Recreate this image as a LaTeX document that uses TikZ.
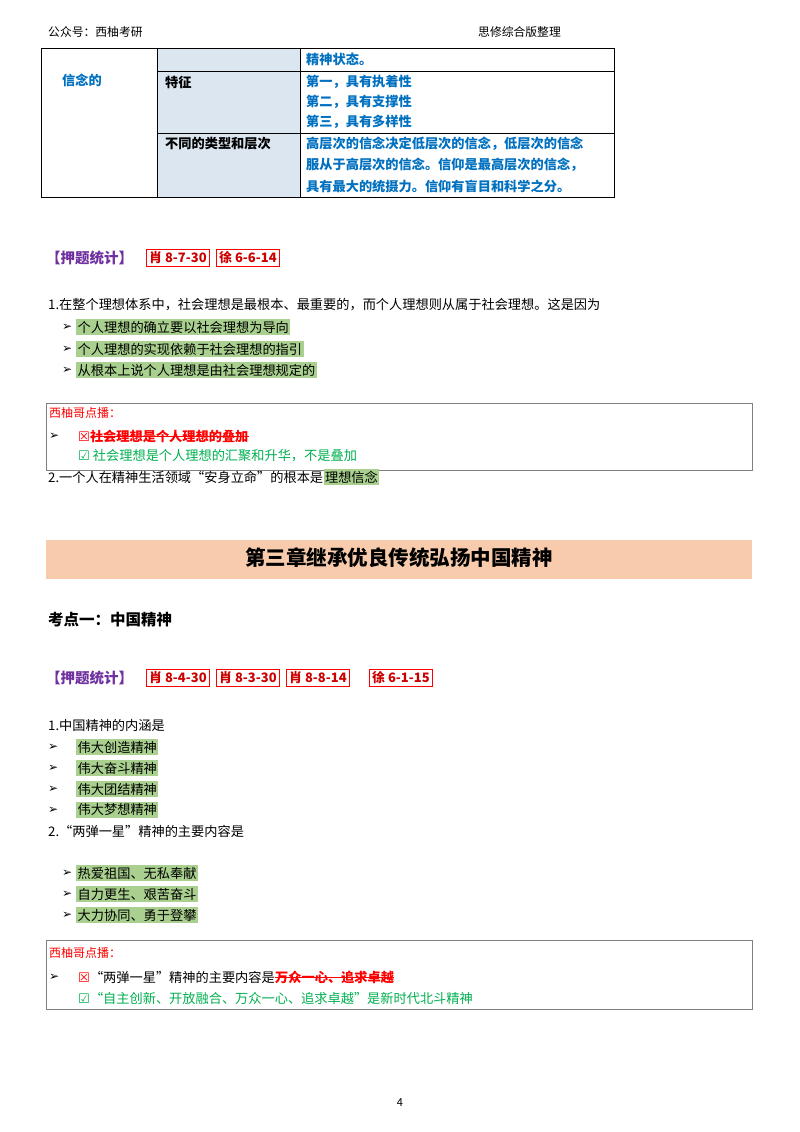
\documentclass[tikz,border=0pt]{standalone}
\usepackage{fontspec}
\setmainfont{Noto Sans CJK SC}
\newfontfamily\sym{DejaVu Sans}
\definecolor{blu}{HTML}{0070C0}
\definecolor{pur}{HTML}{7030A0}
\definecolor{hl}{HTML}{A9D08E}
\definecolor{gr}{HTML}{00B050}
\definecolor{shadebg}{HTML}{DCE6F1}
\definecolor{band}{HTML}{F8CBAD}
\begin{document}
\begin{tikzpicture}[x=1pt,y=-1pt,
  t/.style={anchor=west,inner sep=0pt,font=\fontsize{13.2}{15}\selectfont},
  tb/.style={t,text=blu,font=\fontsize{13.2}{15}\selectfont\bfseries},
  hlt/.style={t,fill=hl,inner sep=1.5pt},
  tag/.style={draw=red,line width=1.2pt,text=red!80!black,inner sep=2.5pt,anchor=west,font=\fontsize{13}{15}\selectfont\bfseries},
  arr/.style={t,font=\sym\fontsize{12}{14}\selectfont},
  pbox/.style={draw=gray,line width=0.6pt}]
\useasboundingbox (0,0) rectangle (800,1132);
\fill[white] (0,0) rectangle (800,1132);
% header
\node[t,font=\fontsize{11.8}{13}\selectfont] (h1) at (48,32) {公众号：西柚考研};
\node[t,font=\fontsize{11.8}{13}\selectfont] (h2) at (478,32) {思修综合版整理};
% table
\fill[shadebg] (157,48) rectangle (300,197);
\draw[line width=0.8pt] (41,48) rectangle (614,197);
\draw[line width=0.8pt] (157,48) -- (157,197) (300,48) -- (300,197);
\draw[line width=0.8pt] (157,71) -- (614,71) (157,133) -- (614,133);
\node[tb] (c1) at (62,80) {信念的};
\node[t,font=\fontsize{13.2}{15}\selectfont\bfseries] (c2) at (165,82) {特征};
\node[t,font=\fontsize{13.2}{15}\selectfont\bfseries] (c3) at (165,144) {不同的类型和层次};
\node[tb] (r0) at (306,59) {精神状态。};
\node[tb] (r1) at (306,82) {第一，具有执着性};
\node[tb] (r2) at (306,102) {第二，具有支撑性};
\node[tb] (r3) at (306,122) {第三，具有多样性};
\node[tb] (r4) at (306,144) {高层次的信念决定低层次的信念，低层次的信念};
\node[tb] (r5) at (306,165) {服从于高层次的信念。信仰是最高层次的信念，};
\node[tb] (r6) at (306,186) {具有最大的统摄力。信仰有盲目和科学之分。};
% stats 1
\node[t,text=pur,font=\fontsize{14.5}{16}\selectfont\bfseries] (s1) at (46,258) {【押题统计】};
\node[tag] (s1a) at (146,258) {肖 8-7-30};
\node[tag] (s1b) at (216,258) {徐 6-6-14};
% Q1
\node[t] (q1) at (48,305) {1.在整个理想体系中，社会理想是最根本、最重要的，而个人理想则从属于社会理想。这是因为};
\node[arr] (a1) at (62,327) {➢}; \node[hlt] (b1) at (76,327) {个人理想的确立要以社会理想为导向};
\node[arr] (a2) at (62,349) {➢}; \node[hlt] (b2) at (76,349) {个人理想的实现依赖于社会理想的指引};
\node[arr] (a3) at (62,370) {➢}; \node[hlt] (b3) at (76,370) {从根本上说个人理想是由社会理想规定的};
% box 1
\draw[pbox] (46,403) rectangle (752,470);
\node[t,text=red,font=\fontsize{12}{13}\selectfont] (p1) at (49,413) {西柚哥点播：};
\node[arr] (p1a) at (49,436) {➢};
\node[t,text=red,font=\fontsize{13.2}{15}\selectfont\bfseries] (p1b) at (78,436) {{\sym☒}社会理想是个人理想的叠加};
\draw[red,line width=0.8pt] ([xshift=14pt]p1b.west) -- (p1b.east);
\node[t,text=gr] (p1c) at (78,456) {{\sym☑} 社会理想是个人理想的汇聚和升华，不是叠加};
\node[t] (q2) at (48,477) {2.一个人在精神生活领域“安身立命”的根本是};
\node[hlt,anchor=west] (q2b) at (q2.east) {理想信念};
% chapter band
\fill[band] (46,540) rectangle (752,579);
\node[font=\fontsize{20.5}{24}\selectfont\bfseries] (ch) at (399,558) {第三章继承优良传统弘扬中国精神};
\node[t,font=\fontsize{15.5}{18}\selectfont\bfseries] (k1) at (48,620) {考点一：中国精神};
% stats 2
\node[t,text=pur,font=\fontsize{14.5}{16}\selectfont\bfseries] (s2) at (46,678) {【押题统计】};
\node[tag] (s2a) at (146,678) {肖 8-4-30};
\node[tag] (s2b) at (216,678) {肖 8-3-30};
\node[tag] (s2c) at (286,678) {肖 8-8-14};
\node[tag] (s2d) at (369,678) {徐 6-1-15};
% Q list
\node[t] (m1) at (48,725) {1.中国精神的内涵是};
\node[arr] (m1a) at (48,747) {➢}; \node[hlt] (m1b) at (76,747) {伟大创造精神};
\node[arr] (m2a) at (48,768) {➢}; \node[hlt] (m2b) at (76,768) {伟大奋斗精神};
\node[arr] (m3a) at (48,789) {➢}; \node[hlt] (m3b) at (76,789) {伟大团结精神};
\node[arr] (m4a) at (48,810) {➢}; \node[hlt] (m4b) at (76,810) {伟大梦想精神};
\node[t] (m2) at (48,831) {2.“两弹一星”精神的主要内容是};
\node[arr] (n1a) at (62,873) {➢}; \node[hlt] (n1b) at (76,873) {热爱祖国、无私奉献};
\node[arr] (n2a) at (62,894) {➢}; \node[hlt] (n2b) at (76,894) {自力更生、艰苦奋斗};
\node[arr] (n3a) at (62,915) {➢}; \node[hlt] (n3b) at (76,915) {大力协同、勇于登攀};
% box 2
\draw[pbox] (46,940) rectangle (752,1009);
\node[t,text=red,font=\fontsize{12}{13}\selectfont] (p2) at (49,953) {西柚哥点播：};
\node[arr] (p2a) at (49,977) {➢};
\node[t] (p2b) at (78,977) {{\sym\color{red}☒}“两弹一星”精神的主要内容是};
\node[t,text=red,font=\fontsize{13.2}{15}\selectfont\bfseries,anchor=west] (p2c) at (p2b.east) {万众一心、追求卓越};
\draw[red,line width=0.8pt] (p2c.west) -- (p2c.east);
\node[t,text=gr] (p2d) at (78,998) {{\sym☑}“自主创新、开放融合、万众一心、追求卓越"是新时代北斗精神};
\node[font=\fontsize{11}{12}\selectfont] (pg) at (400,1103) {4};
\end{tikzpicture}
\end{document}
